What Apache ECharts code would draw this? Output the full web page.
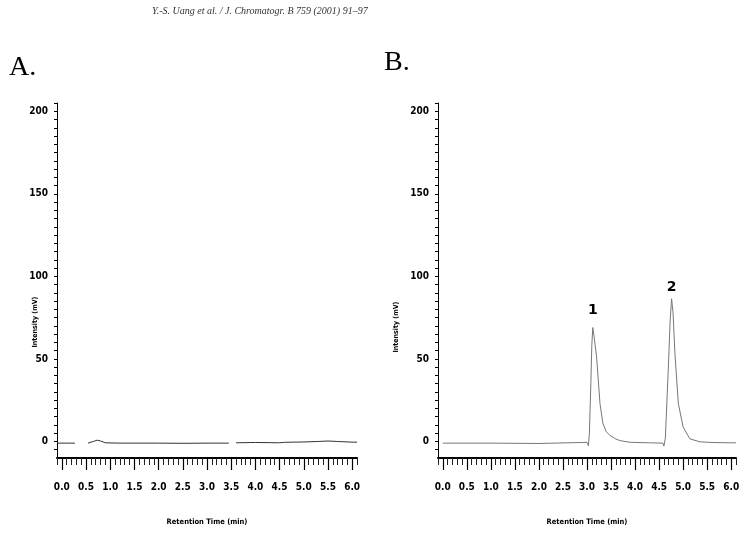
<!DOCTYPE html>
<html>
<head>
<meta charset="utf-8">
<script src="https://cdn.jsdelivr.net/npm/echarts@6/dist/echarts.min.js"></script>
<style>
  html, body { margin: 0; padding: 0; background: #fff; }
  #chart { width: 745px; height: 533px; }
</style>
</head>
<body>
<div id="chart"></div>
<script>
// tick labels
const xLabels = [0.0, 0.5, 1.0, 1.5, 2.0, 2.5, 3.0, 3.5, 4.0, 4.5, 5.0, 5.5, 6.0]
const yLabels = [0, 50, 100, 150, 200]

// panel A: blank run, baseline only (null = gap in the trace)
const traceA = [
  [-0.1, -1], [0.1, -1], [0.27, -1], [0.4, null],
  [0.54, -1], [0.65, 0], [0.73, 0.8], [0.8, 0.3], [0.9, -0.8],
  [1.2, -1], [2.0, -1], [2.5, -1.1], [3.0, -1], [3.45, -1], [3.52, null],
  [3.6, -0.8], [4.0, -0.6], [4.3, -0.7], [4.5, -0.8], [4.6, -0.5],
  [5.0, -0.3], [5.3, 0], [5.5, 0.3], [5.7, 0], [6.0, -0.4], [6.1, -0.4]
]

// panel B: two peaks
const traceB = [
  [0.0, -1], [1.0, -1], [2.0, -1.2], [2.9, -0.6], [3.0, -0.5], [3.03, -2.5],
  [3.05, 5], [3.08, 35], [3.10, 58], [3.12, 69], [3.15, 63], [3.20, 51],
  [3.27, 23], [3.33, 11], [3.40, 6], [3.48, 3.6], [3.6, 1.5], [3.69, 0.5],
  [3.9, -0.5], [4.3, -0.8], [4.58, -1], [4.6, -2.8], [4.63, 2], [4.69, 43],
  [4.73, 73], [4.76, 86.5], [4.79, 78], [4.83, 53], [4.90, 23], [5.00, 8.7],
  [5.14, 1.6], [5.35, -0.2], [5.6, -0.6], [6.0, -0.8], [6.1, -0.8]
]

const peakLabels = [
  { name: '1', coord: [3.12, 69], dy: -17 },
  { name: '2', coord: [4.76, 86.5], dy: -11 }
]

const chart = echarts.init(document.getElementById('chart'))

const labelFont = 'DejaVu Sans Condensed'
const minorX = []
for (let i = -1; i <= 61; i++) minorX.push(i / 10)
const yTicks = []
for (let v = -5; v <= 205; v += 5) yTicks.push(v)

const grids = [
  { left: 57, top: 103, width: 300, height: 355 },
  { left: 438, top: 103, width: 298, height: 355 }
]

const xAxes = []
const yAxes = []
grids.forEach((g, i) => {
  // ruler with fine ticks
  xAxes.push({
    type: 'value', gridIndex: i, min: -0.1, max: 6.1, position: 'bottom',
    axisLine: { onZero: false, lineStyle: { color: '#000', width: 2 } },
    axisTick: { show: true, length: 7, customValues: minorX, lineStyle: { color: '#222', width: 1 } },
    axisLabel: { show: false },
    splitLine: { show: false }
  })
  // major ticks + labels
  xAxes.push({
    type: 'value', gridIndex: i, min: -0.1, max: 6.1, position: 'bottom',
    axisLine: { show: false, onZero: false },
    axisTick: { show: true, length: 12, customValues: xLabels, lineStyle: { color: '#000', width: 1.2 } },
    axisLabel: {
      customValues: xLabels, margin: 24,
      formatter: v => v.toFixed(1),
      fontFamily: labelFont, fontWeight: 'bold', fontSize: 10, color: '#000'
    },
    splitLine: { show: false },
    name: 'Retention Time (min)', nameLocation: 'middle', nameGap: 60,
    nameTextStyle: { fontFamily: labelFont, fontWeight: 'bold', fontSize: 7.5, color: '#000' }
  })
  yAxes.push({
    type: 'value', gridIndex: i, min: -10, max: 205,
    axisLine: { show: true, onZero: false, lineStyle: { color: '#000', width: 1 } },
    axisTick: { show: true, length: 3, customValues: yTicks, lineStyle: { color: '#000' } },
    axisLabel: {
      customValues: yLabels, margin: 9,
      fontFamily: labelFont, fontWeight: 'bold', fontSize: 10, color: '#000'
    },
    splitLine: { show: false }
  })
})

const peakMarks = {
  symbol: 'rect', symbolSize: 0,
  itemStyle: { color: 'transparent' },
  label: {
    show: true, position: 'inside', color: '#000',
    fontFamily: 'DejaVu Sans', fontWeight: 'bold', fontSize: 14
  },
  data: peakLabels.map(p => ({
    coord: p.coord, value: p.name,
    label: { offset: [0, p.dy], formatter: p.name }
  }))
}

const titleText = (text, x, y) => ({
  type: 'text', left: x, top: y,
  style: { text, fill: '#000', font: '28px "Liberation Serif", serif' }
})
const yName = (x, y) => ({
  type: 'text', x, y, rotation: Math.PI / 2,
  style: {
    text: 'Intensity (mV)', fill: '#000', align: 'center', verticalAlign: 'middle',
    font: 'bold 7px "DejaVu Sans Condensed"'
  }
})

chart.setOption({
  animation: false,
  backgroundColor: '#fff',
  grid: grids,
  xAxis: xAxes,
  yAxis: yAxes,
  series: [
    {
      type: 'line', xAxisIndex: 0, yAxisIndex: 0, data: traceA,
      showSymbol: false, connectNulls: false,
      lineStyle: { color: '#333', width: 1 }
    },
    {
      type: 'line', xAxisIndex: 2, yAxisIndex: 1, data: traceB,
      showSymbol: false,
      lineStyle: { color: '#777', width: 1 },
      markPoint: peakMarks
    }
  ],
  graphic: [
    {
      type: 'text', left: 152, top: 6,
      style: {
        text: 'Y.-S. Uang et al. / J. Chromatogr. B 759 (2001) 91–97',
        fill: '#333', font: 'italic 10px "Liberation Serif", serif'
      }
    },
    titleText('A.', 9, 54),
    titleText('B.', 384, 49),
    yName(35, 322),
    yName(396, 327)
  ]
})
</script>
</body>
</html>
